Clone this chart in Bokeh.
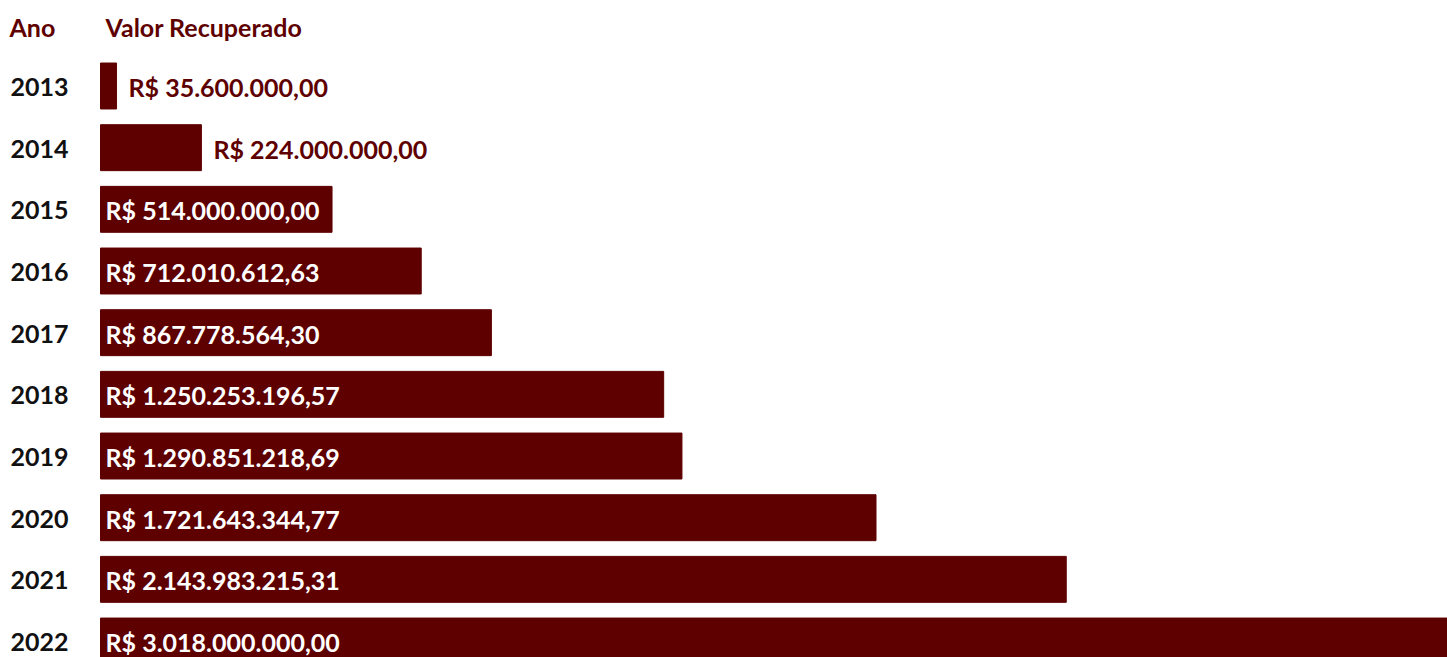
from bokeh.plotting import figure
from bokeh.models import Range1d, ColumnDataSource
from bokeh.core.properties import value
from bokeh.embed import file_html
from bokeh.resources import INLINE

years = ["2013", "2014", "2015", "2016", "2017", "2018", "2019", "2020", "2021", "2022"]
values = [35600000.00, 224000000.00, 514000000.00, 712010612.63, 867778564.30,
          1250253196.57, 1290851218.69, 1721643344.77, 2143983215.31, 3018000000.00]
labels = ["R$ 35.600.000,00", "R$ 224.000.000,00", "R$ 514.000.000,00", "R$ 712.010.612,63",
          "R$ 867.778.564,30", "R$ 1.250.253.196,57", "R$ 1.290.851.218,69",
          "R$ 1.721.643.344,77", "R$ 2.143.983.215,31", "R$ 3.018.000.000,00"]
header_year = "Ano"
header_value = "Valor Recuperado"

W, H = 1447, 657
BAR = "#5e0000"
FONT = "Lato"
FS = "25px"

units_per_px = 2.22e6
x_start = -100 * units_per_px
x_end = x_start + W * units_per_px

pitch = 61.67
top_row = -85.5 / pitch
bottom_row = top_row + H / pitch

p = figure(width=W, height=H, output_backend="svg", toolbar_location=None,
           x_range=Range1d(x_start, x_end), y_range=Range1d(bottom_row, top_row),
           min_border=0, outline_line_color=None)
p.axis.visible = False
p.grid.visible = False
p.background_fill_color = "white"
p.border_fill_color = "white"

rows = list(range(len(years)))
src = ColumnDataSource(dict(y=rows, v=values, year=years, label=labels,
                            xs=[x_start] * len(years)))
p.hbar(y="y", left=0, right="v", height=0.745, color=BAR, source=src)

p.text(x="xs", y="y", text="year", source=src, x_offset=10, y_offset=1, text_baseline="middle",
       text_font=value(FONT), text_font_style="bold", text_font_size=FS,
       text_color="#111111")

inside = [i for i, v in enumerate(values) if v >= 300e6]
outside = [i for i, v in enumerate(values) if v < 300e6]
src_in = ColumnDataSource(dict(y=[rows[i] for i in inside], x=[0] * len(inside),
                               t=[labels[i] for i in inside]))
src_out = ColumnDataSource(dict(y=[rows[i] for i in outside], x=[values[i] for i in outside],
                                t=[labels[i] for i in outside]))
p.text(x="x", y="y", text="t", source=src_in, x_offset=5, y_offset=1, text_baseline="middle",
       text_font=value(FONT), text_font_style="bold", text_font_size=FS,
       text_color="white")
p.text(x="x", y="y", text="t", source=src_out, x_offset=12, y_offset=1, text_baseline="middle",
       text_font=value(FONT), text_font_style="bold", text_font_size=FS,
       text_color=BAR)

hy = -59.5 / pitch
p.text(x=[x_start], y=[hy], text=[header_year], x_offset=9, text_baseline="middle",
       text_font=value(FONT), text_font_style="bold", text_font_size=FS,
       text_color=BAR)
p.text(x=[0], y=[hy], text=[header_value], x_offset=5, text_baseline="middle",
       text_font=value(FONT), text_font_style="bold", text_font_size=FS,
       text_color=BAR)

open("out.html", "w").write(file_html(p, INLINE))
